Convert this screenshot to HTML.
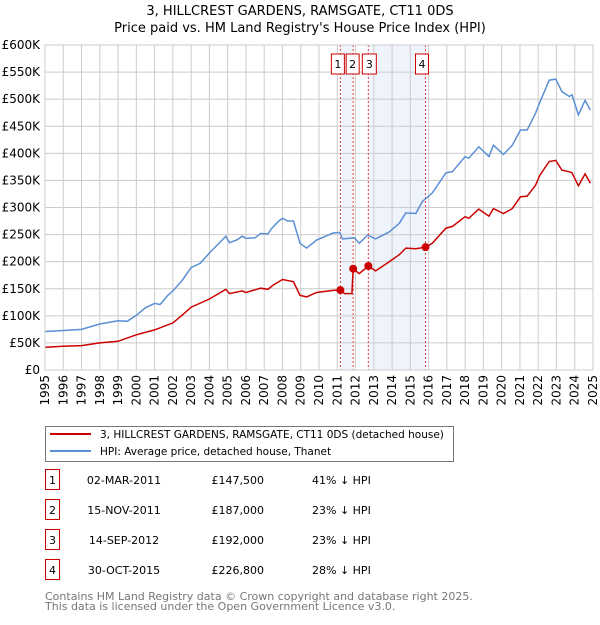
<!DOCTYPE html>
<html><head><meta charset="utf-8"><style>
body{margin:0;background:#fff;font-family:"Liberation Sans","DejaVu Sans",sans-serif;}
svg text{font-family:"DejaVu Sans","Liberation Sans",sans-serif;}
</style></head><body>
<svg id="chart" width="600" height="620" xmlns="http://www.w3.org/2000/svg">
<text x="300" y="15" text-anchor="middle" font-size="13" fill="#000">3, HILLCREST GARDENS, RAMSGATE, CT11 0DS</text>
<text x="300" y="32" text-anchor="middle" font-size="13" fill="#000">Price paid vs. HM Land Registry's House Price Index (HPI)</text>
<g id="grid"></g><g id="marks"></g><g id="axes"></g>
<rect x="45.5" y="426.5" width="408" height="35" fill="#fff" stroke="#777"/>
<line x1="50" y1="434" x2="91" y2="434" stroke="#cc0000" stroke-width="2"/>
<text x="100" y="438" font-size="10.5">3, HILLCREST GARDENS, RAMSGATE, CT11 0DS (detached house)</text>
<line x1="50" y1="451" x2="91" y2="451" stroke="#5b8fd4" stroke-width="2"/>
<text x="100" y="455" font-size="10.5">HPI: Average price, detached house, Thanet</text>
<g id="table" font-size="11"></g>
<text x="45" y="600" font-size="11" fill="#777">Contains HM Land Registry data © Crown copyright and database right 2025.</text>
<text x="45" y="610" font-size="11" fill="#777">This data is licensed under the Open Government Licence v3.0.</text>
</svg>
<script>
const yTicks=[0,50,100,150,200,250,300,350,400,450,500,550,600];
const yTickLabels=["£0","£50K","£100K","£150K","£200K","£250K","£300K","£350K","£400K","£450K","£500K","£550K","£600K"];
const years=[1995,1996,1997,1998,1999,2000,2001,2002,2003,2004,2005,2006,2007,2008,2009,2010,2011,2012,2013,2014,2015,2016,2017,2018,2019,2020,2021,2022,2023,2024,2025];
const hpiT=[1995,1996,1997,1998,1999,1999.5,2000,2000.5,2001,2001.3,2001.7,2002,2002.5,2003,2003.5,2004,2004.7,2004.9,2005.1,2005.5,2005.8,2006,2006.5,2006.8,2007.2,2007.4,2007.8,2008,2008.3,2008.6,2008.96,2009.32,2009.87,2010.77,2011.13,2011.3,2011.93,2012.2,2012.66,2013.1,2013.85,2014.4,2014.75,2015.3,2015.66,2016.2,2016.95,2017.3,2018,2018.2,2018.75,2019.3,2019.55,2020.1,2020.58,2021.03,2021.4,2021.85,2022.1,2022.6,2022.96,2023.3,2023.7,2023.85,2024.2,2024.57,2024.85];
const hpiV=[71,73,75,85,91,90,101,115,123,121,137,146,165,189,197,216,240,247,235,240,247,243,244,252,251,261,275,280,275,275,234,225,240,253,254,242,244,234,249,242,255,271,290,289,311,327,364,366,394,391,412,394,415,398,415,443,443,474,495,535,537,514,505,508,471,498,480];
const redT=[1995,1996,1997,1998,1999,2000,2001,2002,2002.5,2003,2004,2004.9,2005.1,2005.8,2006,2006.8,2007.2,2007.5,2008,2008.6,2008.96,2009.32,2009.87,2010.77,2011.17,2011.4,2011.8,2011.87,2012.2,2012.7,2013.1,2013.85,2014.4,2014.75,2015.3,2015.83,2016.2,2016.95,2017.3,2018,2018.2,2018.75,2019.3,2019.55,2020.1,2020.58,2021.03,2021.4,2021.85,2022.1,2022.6,2022.96,2023.3,2023.7,2023.85,2024.2,2024.57,2024.85];
const redV=[42,44,45,50,53,65,74,87,101,116,131,149,141,146,143,151,149,157,167,163,138,135,143,147,147.5,141,141,187,178,192,183,200,213,225,224,226.8,234,262,265,283,280,297,284,298,289,298,320,321,341,360,385,387,369,366,364,340,362,345];
const saleLabels=["1","2","3","4"];
const saleT=[2011.17,2011.87,2012.7,2015.83];
const saleV=[147.5,187,192,226.8];
const saleDates=["02-MAR-2011","15-NOV-2011","14-SEP-2012","30-OCT-2015"];
const salePrices=["£147,500","£187,000","£192,000","£226,800"];
const saleHpi=["41% ↓ HPI","23% ↓ HPI","23% ↓ HPI","28% ↓ HPI"];

const NS="http://www.w3.org/2000/svg";
const X0=45,X1=593,Y0=370,Y1=45;
const xs=t=>X0+(t-1995)/30*(X1-X0);
const ys=v=>Y0-v/600*(Y0-Y1);
function mk(tag,attrs,parent,text){const e=document.createElementNS(NS,tag);for(const k in attrs)e.setAttribute(k,attrs[k]);if(text!=null)e.textContent=text;parent.appendChild(e);return e;}
const grid=document.getElementById('grid'),marks=document.getElementById('marks'),axes=document.getElementById('axes'),table=document.getElementById('table');
for(const [a,b] of [[0,1],[2,3]]){
 const r=mk('rect',{x:xs(saleT[a]),y:Y1,width:xs(saleT[b])-xs(saleT[a]),height:Y0-Y1,fill:'#eef3fc'},grid);
 
 
}
yTicks.forEach((v,i)=>{
 const l=mk('line',{x1:X0,x2:X1,y1:ys(v),y2:ys(v),stroke:'#ccc','stroke-width':1},grid);
 
 
 const t=mk('text',{x:40,y:ys(v)+4,'text-anchor':'end','font-size':12},axes,yTickLabels[i]);
 
 
});
years.forEach(y=>{
 const l=mk('line',{x1:xs(y),x2:xs(y),y1:Y1,y2:Y0,stroke:'#ccc','stroke-width':1},grid);
 
 
 const t=mk('text',{x:0,y:0,'text-anchor':'end','font-size':12,transform:`translate(${xs(y)+4},375) rotate(-90)`},axes,String(y));
 
 
});
saleT.forEach((t,i)=>{
 const l=mk('line',{x1:xs(t),x2:xs(t),y1:Y1,y2:Y0,stroke:'#e04040','stroke-width':1,'stroke-dasharray':'2,2'},grid);
 
 
});
const pts=(T,V)=>T.map((t,i)=>xs(t).toFixed(1)+','+ys(V[i]).toFixed(1)).join(' ');
const hp=mk('polyline',{points:pts(hpiT,hpiV),fill:'none',stroke:'#5b8fd4','stroke-width':1.5},marks);


const rp=mk('polyline',{points:pts(redT,redV),fill:'none',stroke:'#cc0000','stroke-width':1.5},marks);


saleT.forEach((t,i)=>{
 const c=mk('circle',{cx:xs(t),cy:ys(saleV[i]),r:4,fill:'#cc0000'},marks);
 
 
});
saleLabels.forEach((s,i)=>{
 const bx=[xs(saleT[0])-9,xs(saleT[1])-7,xs(saleT[2])-6,xs(saleT[3])-10][i];
 const g=mk('g',{},axes);
 
 
 mk('rect',{x:bx,y:54,width:i==2?14:13,height:20,fill:'#fff',stroke:'#cc0000'},g);
 mk('text',{x:bx+(i==2?7:6.5),y:68,'text-anchor':'middle','font-size':11},g,s);
});
const fr=mk('rect',{x:X0,y:Y1,width:X1-X0,height:Y0-Y1,fill:'none',stroke:'#ccc'},axes);


saleLabels.forEach((s,i)=>{
 const y=483+i*30;
 const g=mk('g',{},table);
 
 
 mk('rect',{x:45.5,y:y-13.5,width:14,height:20,fill:'#fff',stroke:'#cc0000'},g);
 mk('text',{x:52.5,y:y+1,'text-anchor':'middle'},g,s);
 mk('text',{x:124,y:y+1,'text-anchor':'middle'},g,saleDates[i]);
 mk('text',{x:264,y:y+1,'text-anchor':'end'},g,salePrices[i]);
 mk('text',{x:312,y:y+1},g,saleHpi[i]);
});
</script>
</body></html>
